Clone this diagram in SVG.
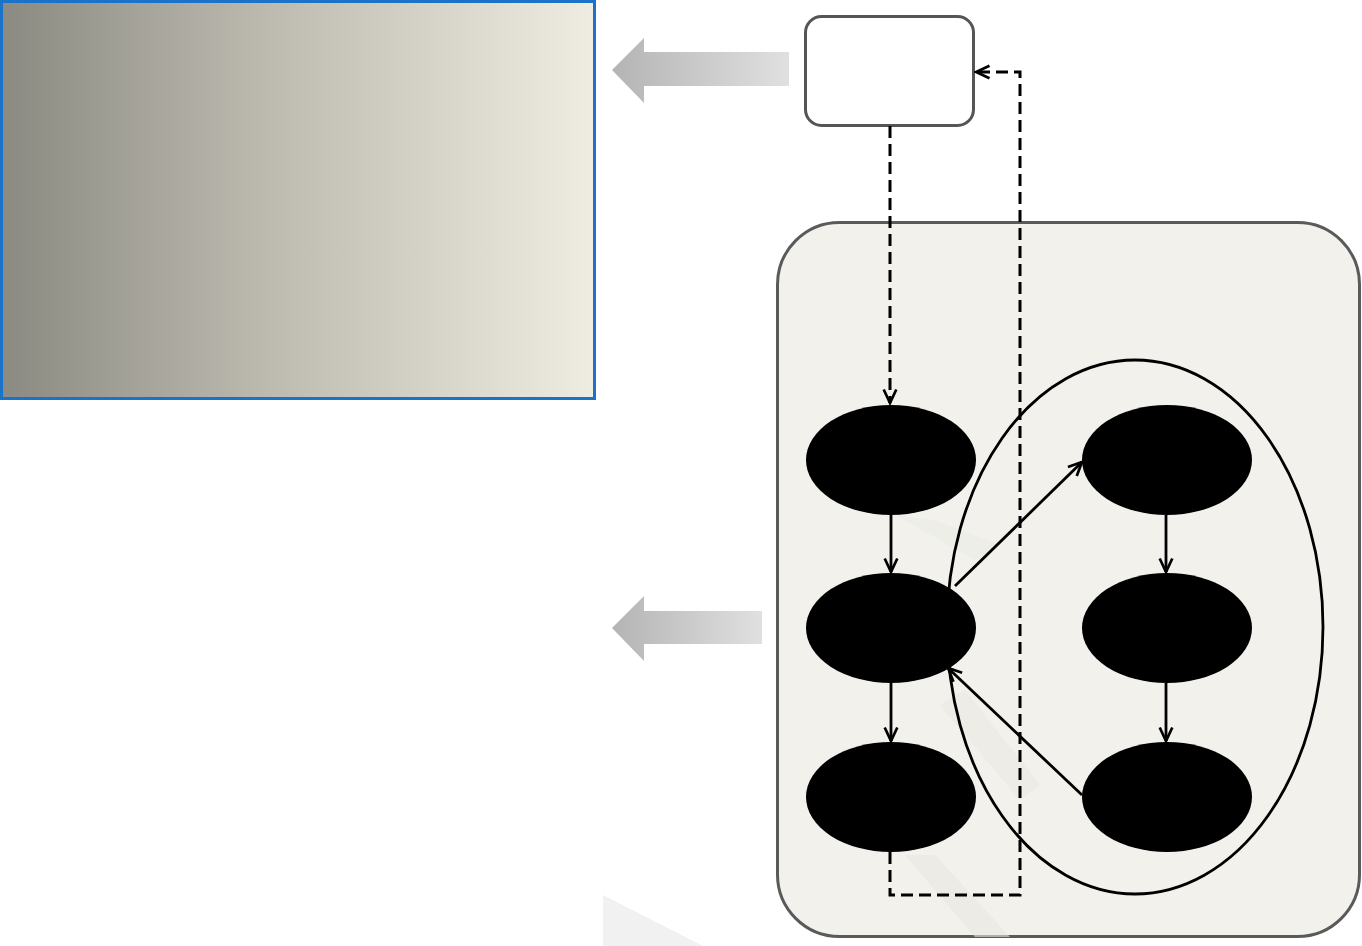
<svg xmlns="http://www.w3.org/2000/svg" width="1362" height="946" viewBox="0 0 1362 946">
  <defs>
    <linearGradient id="panelFill" x1="0" y1="0" x2="1" y2="0">
      <stop offset="0" stop-color="#8b8a82"/>
      <stop offset="0.45" stop-color="#bdbbb0"/>
      <stop offset="1" stop-color="#efede1"/>
    </linearGradient>
    <linearGradient id="bigArrowFill" x1="0" y1="0" x2="1" y2="0">
      <stop offset="0" stop-color="#b4b4b4"/>
      <stop offset="1" stop-color="#e0e0e0"/>
    </linearGradient>
    <marker id="openHead" viewBox="0 0 20 20" refX="18" refY="10" markerWidth="18" markerHeight="18" markerUnits="userSpaceOnUse" orient="auto">
      <path d="M3,3 L18,10 L3,17" fill="none" stroke="#000" stroke-width="3"/>
    </marker>
  </defs>
  <style>
    .node { fill: #000; }
    .solid { fill: none; stroke: #000; stroke-width: 2.8; }
    .dash { fill: none; stroke: #000; stroke-width: 3; stroke-dasharray: 12 6; }
    .fade { fill: #e8e7e2; }
  </style>

  <rect width="1362" height="946" fill="#fff"/>

  <!-- gradient panel, top left -->
  <g id="panel">
    <rect x="1.5" y="1.5" width="593" height="397" fill="url(#panelFill)" stroke="#1a72c9" stroke-width="3"/>
  </g>

  <!-- wide pointer arrows -->
  <g id="pointer-top">
    <polygon points="612,70 644,38 644,52 789,52 789,86 644,86 644,103" fill="url(#bigArrowFill)"/>
  </g>
  <g id="pointer-middle">
    <polygon points="612,628 644,596 644,611 762,611 762,644 644,644 644,661" fill="url(#bigArrowFill)"/>
  </g>

  <!-- faint triangle below -->
  <polygon points="603,895 703,946 603,946" fill="#f1f1f1"/>

  <!-- container -->
  <g id="container">
    <rect x="777.5" y="222.5" width="582" height="714" rx="62" ry="62" fill="#f2f1ec" stroke="#5a5a5a" stroke-width="3"/>
    <!-- faint background strokes -->
    <polygon class="fade" points="905,855 935,855 1010,937 975,937" opacity="0.6"/>
    <polygon class="fade" points="940,705 965,690 1040,785 1020,800" opacity="0.5"/>
    <polygon class="fade" points="895,515 935,520 1000,545 975,560" opacity="0.35"/>
  </g>

  <!-- top box -->
  <g id="source">
    <rect x="805.5" y="16.5" width="168" height="109" rx="16" ry="16" fill="#fff" stroke="#555" stroke-width="3"/>
  </g>

  <!-- grouping ellipse -->
  <g id="group">
    <ellipse cx="1135" cy="627" rx="188" ry="267" fill="none" stroke="#000" stroke-width="2.8"/>
  </g>

  <!-- nodes -->
  <g id="n1"><ellipse class="node" cx="891" cy="460" rx="85" ry="55"/></g>
  <g id="n2"><ellipse class="node" cx="891" cy="628" rx="85" ry="55"/></g>
  <g id="n3"><ellipse class="node" cx="891" cy="797" rx="85" ry="55"/></g>
  <g id="n4"><ellipse class="node" cx="1167" cy="460" rx="85" ry="55"/></g>
  <g id="n5"><ellipse class="node" cx="1167" cy="628" rx="85" ry="55"/></g>
  <g id="n6"><ellipse class="node" cx="1167" cy="797" rx="85" ry="55"/></g>

  <!-- connectors -->
  <g id="connectors">
    <path class="dash" d="M890,126 V403" marker-end="url(#openHead)"/>
    <path class="dash" d="M890,852 V895 H1020 V72 H976" marker-end="url(#openHead)"/>
    <path class="solid" d="M891,515 V572" marker-end="url(#openHead)"/>
    <path class="solid" d="M891,683 V741" marker-end="url(#openHead)"/>
    <path class="solid" d="M1166,515 V572" marker-end="url(#openHead)"/>
    <path class="solid" d="M1166,683 V741" marker-end="url(#openHead)"/>
    <path class="solid" d="M955,586 L1082,462" marker-end="url(#openHead)"/>
    <path class="solid" d="M1082,795 L948,668" marker-end="url(#openHead)"/>
  </g>
</svg>
